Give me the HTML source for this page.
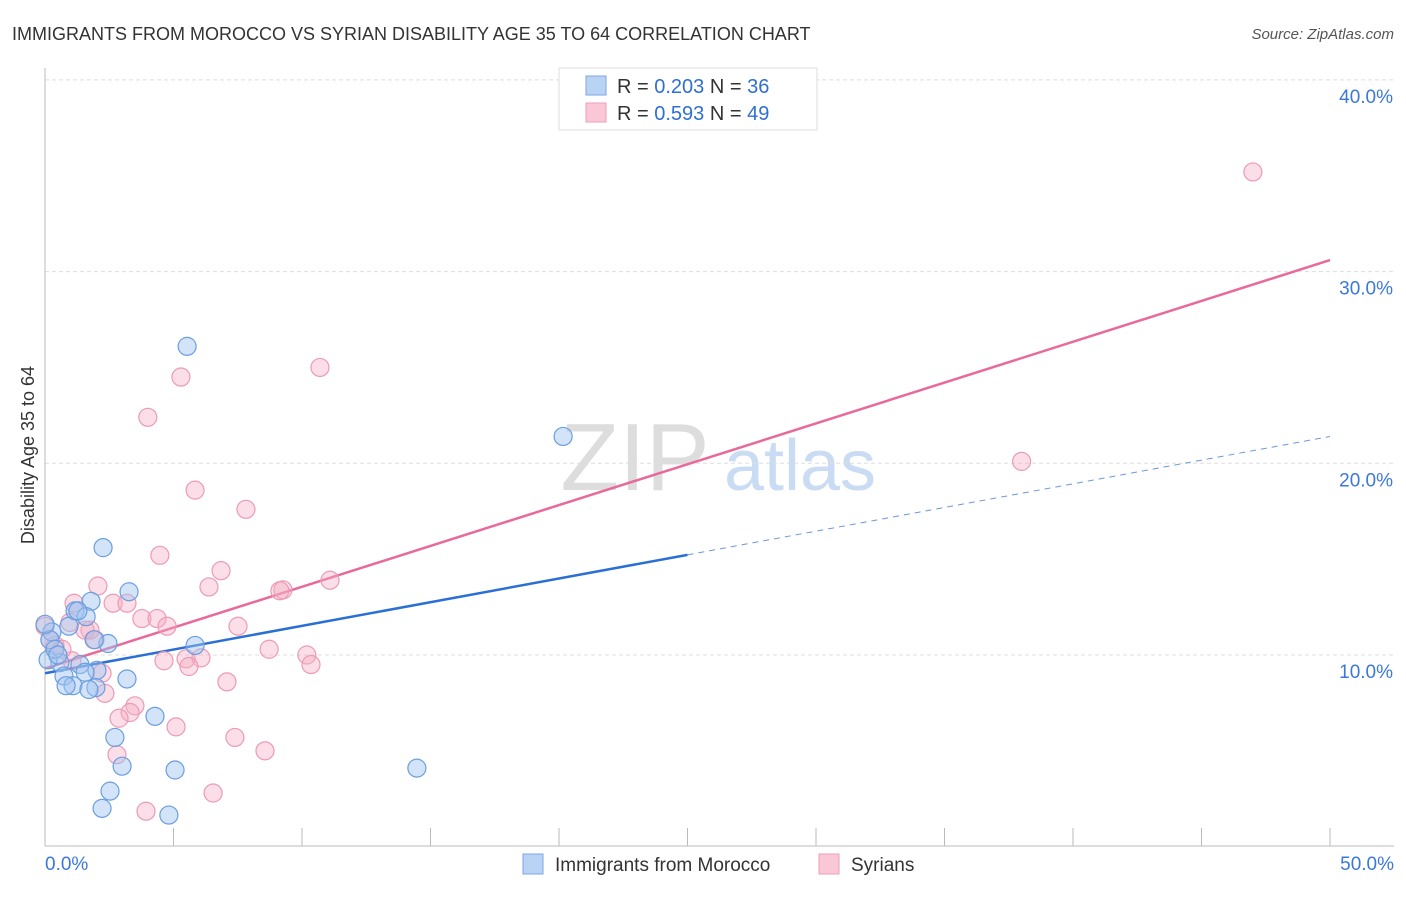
<!DOCTYPE html>
<html><head><meta charset="utf-8"><style>
body{margin:0;background:#fff;font-family:"Liberation Sans",sans-serif}
svg text{font-family:"Liberation Sans",sans-serif}
</style></head><body>
<svg id="c" width="1406" height="892" xmlns="http://www.w3.org/2000/svg">
<text x="12" y="40" font-size="18" fill="#333">IMMIGRANTS FROM MOROCCO VS SYRIAN DISABILITY AGE 35 TO 64 CORRELATION CHART</text>
<text x="1394" y="39" font-size="15" fill="#555" font-style="italic" text-anchor="end">Source: ZipAtlas.com</text>
<text x="34" y="455" font-size="18" fill="#333" text-anchor="middle" transform="rotate(-90 34 455)">Disability Age 35 to 64</text>
<g><text x="635" y="490" font-size="96" fill="#ddd" text-anchor="middle" font-family="Liberation Serif,serif">ZIP</text><text x="800" y="490" font-size="72" fill="#c9dcf3" text-anchor="middle">atlas</text></g>
<g id="grid"></g><g id="axes"></g><g id="lines"></g><g id="pts"></g>
<g>
<rect x="559" y="68" width="258" height="62" fill="#fff" stroke="#ddd"/>
<rect x="586" y="76" width="20" height="19" fill="#b9d3f5" stroke="#7ba7e3"/>
<rect x="586" y="103" width="20" height="19" fill="#f9c7d6" stroke="#ef9fb8"/>
<text x="617" y="93" font-size="20" fill="#333">R = <tspan fill="#2e6fd4">0.203</tspan>   N = <tspan fill="#2e6fd4">36</tspan></text>
<text x="617" y="120" font-size="20" fill="#333">R = <tspan fill="#2e6fd4">0.593</tspan>   N = <tspan fill="#2e6fd4">49</tspan></text>
</g>
<g>
<rect x="523" y="854" width="20" height="20" fill="#b9d3f5" stroke="#7ba7e3"/>
<text x="555" y="871" font-size="19" fill="#333">Immigrants from Morocco</text>
<rect x="819" y="854" width="20" height="20" fill="#f9c7d6" stroke="#ef9fb8"/>
<text x="851" y="871" font-size="19" fill="#333">Syrians</text>
</g>
</svg>
<script>
const yTicks=[10,20,30,40];
const yTickLabels=["10.0%","20.0%","30.0%","40.0%"];
const xTickVals=[0,5,10,15,20,25,30,35,40,45,50];
const xEndLabels=["0.0%","50.0%"];
const moroccoX=[5.53,20.16,2.26,3.27,1.79,1.17,1.6,0.93,0.27,2.45,1.91,5.84,1.36,0.58,2.02,0.74,3.19,1.09,1.98,1.71,4.28,2.72,3.0,5.06,14.47,2.53,2.22,4.82,0.19,0.12,0.39,1.28,0,0.5,1.56,0.82];
const moroccoY=[26.1,21.4,15.6,13.3,12.8,12.3,12.0,11.5,11.2,10.6,10.8,10.5,9.5,9.6,9.2,8.9,8.75,8.4,8.3,8.2,6.8,5.7,4.2,4.0,4.1,2.9,2.0,1.65,10.8,9.75,10.3,12.3,11.6,10.0,9.1,8.4];
const syriaX=[47.0,10.7,5.29,4.0,5.84,7.82,38.0,4.47,6.85,2.06,6.38,9.26,9.14,11.09,2.65,3.19,1.13,3.77,4.36,4.75,0.97,7.51,1.75,0,0.39,8.72,10.19,4.63,5.49,6.07,5.6,10.35,1.05,2.22,7.08,2.33,3.5,3.31,2.88,5.1,2.8,7.39,8.56,3.93,6.54,0.66,1.56,0.19,1.95];
const syriaY=[35.2,25.0,24.5,22.4,18.6,17.6,20.1,15.2,14.4,13.6,13.55,13.4,13.35,13.9,12.7,12.7,12.7,11.9,11.9,11.5,11.7,11.5,11.3,11.5,10.5,10.3,10.0,9.7,9.8,9.85,9.4,9.5,9.7,9.05,8.6,8.0,7.35,7.0,6.7,6.25,4.8,5.7,5.0,1.85,2.8,10.3,11.3,10.8,10.8];
const moroccoTrend=[9.05,21.4];
const syriaTrend=[9.3,30.6];
const NS="http://www.w3.org/2000/svg";
const X=v=>45+v*25.7, Y=v=>846.7-v*19.17;
function mk(p,t,a){const e=document.createElementNS(NS,t);for(const k in a)e.setAttribute(k,a[k]);p.appendChild(e);return e;}
const grid=document.getElementById('grid'),axes=document.getElementById('axes'),lines=document.getElementById('lines'),pts=document.getElementById('pts');
yTicks.forEach((t,i)=>{
 const l=mk(grid,'line',{x1:45,x2:1394,y1:Y(t),y2:Y(t),stroke:'#ddd','stroke-dasharray':'4,3'});
 
 
 const tx=mk(axes,'text',{x:1393,y:Y(t)+23,'font-size':19,fill:'#3c78d8','text-anchor':'end'});
 tx.textContent=yTickLabels[i];
 
 
});
const ax=mk(axes,'line',{x1:45,x2:1394,y1:846,y2:846,stroke:'#bbb'});


const ay=mk(axes,'line',{x1:45,x2:45,y1:68,y2:846,stroke:'#bbb'});


xTickVals.forEach(t=>{
 const l=mk(axes,'line',{x1:X(t),x2:X(t),y1:828,y2:846,stroke:'#bbb'});
 
 
});
const xl0=mk(axes,'text',{x:45,y:870,'font-size':19,fill:'#3c78d8'});xl0.textContent=xEndLabels[0];


const xl1=mk(axes,'text',{x:1394,y:870,'font-size':19,fill:'#3c78d8','text-anchor':'end'});xl1.textContent=xEndLabels[1];


function yAt(tr,x){return tr[0]+(tr[1]-tr[0])*x/50;}
function pl(tr,x0,x1,c,w,d,name){const l=mk(lines,'line',{x1:X(x0),y1:Y(yAt(tr,x0)),x2:X(x1),y2:Y(yAt(tr,x1)),stroke:c,'stroke-width':w});if(d)l.setAttribute('stroke-dasharray',d);
 
 }
pl(moroccoTrend,0,25,'#2a6fd6',2.5,null,'morocco-trend-line');
pl(moroccoTrend,25,50,'#6b98dc',1,'6,5','morocco-trend-extension');
pl(syriaTrend,0,50,'#e8699a',2.5,null,'syrians-trend-line');
function dots(xs,ys,f,s,name){xs.forEach((x,i)=>{const c=mk(pts,'circle',{cx:X(x),cy:Y(ys[i]),r:9,fill:f,stroke:s,'stroke-width':1.2});
 
 });}
dots(syriaX,syriaY,'rgba(246,172,196,0.4)','#ec9ab5','syrians-point');
dots(moroccoX,moroccoY,'rgba(160,196,240,0.45)','#6a9ee0','morocco-point');
</script>
</body></html>
